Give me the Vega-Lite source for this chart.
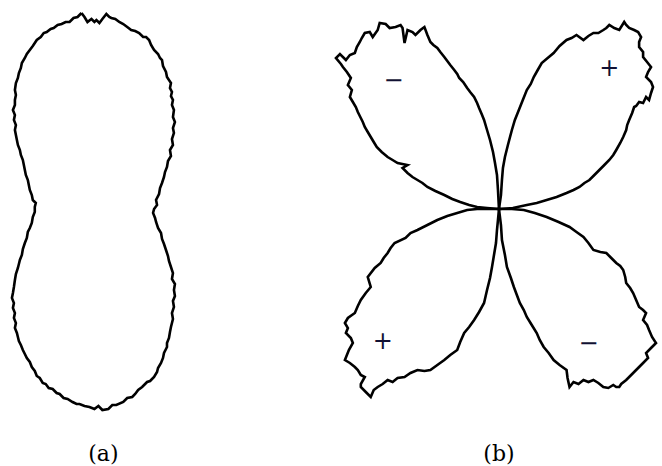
{
  "$schema": "https://vega.github.io/schema/vega-lite/v6.json",
  "width": 662,
  "height": 466,
  "autosize": {"type": "fit", "contains": "padding"},
  "padding": 0,
  "background": "white",
  "config": {"view": {"stroke": null}},
  "datasets": {
    "outline": [
      {"shape":"a","x":82,"y":13},{"shape":"a","x":85,"y":17},{"shape":"a","x":88,"y":22},{"shape":"a","x":92,"y":19},{"shape":"a","x":95,"y":22},{"shape":"a","x":97,"y":20},{"shape":"a","x":100,"y":23},{"shape":"a","x":103,"y":19},{"shape":"a","x":107,"y":14},{"shape":"a","x":110,"y":17},{"shape":"a","x":112,"y":18},
      {"shape":"a","x":116,"y":19},{"shape":"a","x":120,"y":22},{"shape":"a","x":124,"y":24},{"shape":"a","x":128,"y":27},{"shape":"a","x":132,"y":30},{"shape":"a","x":136,"y":31},{"shape":"a","x":140,"y":33},{"shape":"a","x":144,"y":37},{"shape":"a","x":147,"y":37},{"shape":"a","x":150,"y":40},{"shape":"a","x":152,"y":45},{"shape":"a","x":155,"y":50},{"shape":"a","x":159,"y":54},{"shape":"a","x":161,"y":58},{"shape":"a","x":163,"y":60},{"shape":"a","x":164,"y":66},{"shape":"a","x":167,"y":72},{"shape":"a","x":168,"y":77},{"shape":"a","x":172,"y":83},{"shape":"a","x":171,"y":88},{"shape":"a","x":173,"y":92},{"shape":"a","x":172,"y":96},{"shape":"a","x":174,"y":100},{"shape":"a","x":173,"y":105},{"shape":"a","x":175,"y":110},{"shape":"a","x":174,"y":117},{"shape":"a","x":176,"y":122},{"shape":"a","x":174,"y":128},{"shape":"a","x":175,"y":133},{"shape":"a","x":173,"y":139},{"shape":"a","x":174,"y":145},{"shape":"a","x":171,"y":150},{"shape":"a","x":172,"y":156},{"shape":"a","x":169,"y":161},{"shape":"a","x":168,"y":167},{"shape":"a","x":166,"y":172},{"shape":"a","x":165,"y":177},{"shape":"a","x":163,"y":183},{"shape":"a","x":161,"y":188},{"shape":"a","x":160,"y":194},{"shape":"a","x":157,"y":200},{"shape":"a","x":158,"y":205},{"shape":"a","x":155,"y":209},{"shape":"a","x":154,"y":213},
      {"shape":"a","x":156,"y":218},{"shape":"a","x":157,"y":222},{"shape":"a","x":159,"y":228},{"shape":"a","x":162,"y":233},{"shape":"a","x":163,"y":239},{"shape":"a","x":165,"y":244},{"shape":"a","x":167,"y":250},{"shape":"a","x":169,"y":256},{"shape":"a","x":170,"y":261},{"shape":"a","x":172,"y":267},{"shape":"a","x":174,"y":273},{"shape":"a","x":173,"y":279},{"shape":"a","x":176,"y":284},{"shape":"a","x":175,"y":290},{"shape":"a","x":176,"y":296},{"shape":"a","x":174,"y":301},{"shape":"a","x":175,"y":307},{"shape":"a","x":173,"y":313},{"shape":"a","x":174,"y":319},{"shape":"a","x":172,"y":327},{"shape":"a","x":171,"y":332},{"shape":"a","x":170,"y":338},{"shape":"a","x":168,"y":343},{"shape":"a","x":168,"y":347},{"shape":"a","x":165,"y":353},{"shape":"a","x":164,"y":358},{"shape":"a","x":162,"y":363},{"shape":"a","x":159,"y":368},{"shape":"a","x":158,"y":372},{"shape":"a","x":155,"y":377},{"shape":"a","x":151,"y":381},{"shape":"a","x":148,"y":382},{"shape":"a","x":143,"y":387},{"shape":"a","x":139,"y":390},{"shape":"a","x":136,"y":394},{"shape":"a","x":133,"y":397},{"shape":"a","x":128,"y":398},{"shape":"a","x":124,"y":402},{"shape":"a","x":117,"y":405},{"shape":"a","x":113,"y":405},{"shape":"a","x":109,"y":409},{"shape":"a","x":103,"y":410},{"shape":"a","x":99,"y":406},{"shape":"a","x":95,"y":409},{"shape":"a","x":90,"y":407},{"shape":"a","x":85,"y":406},{"shape":"a","x":80,"y":404},{"shape":"a","x":77,"y":404},{"shape":"a","x":73,"y":402},{"shape":"a","x":68,"y":399},{"shape":"a","x":64,"y":398},{"shape":"a","x":60,"y":394},{"shape":"a","x":57,"y":393},{"shape":"a","x":53,"y":389},{"shape":"a","x":49,"y":388},{"shape":"a","x":46,"y":384},{"shape":"a","x":43,"y":383},{"shape":"a","x":40,"y":378},{"shape":"a","x":37,"y":376},{"shape":"a","x":35,"y":371},{"shape":"a","x":32,"y":367},{"shape":"a","x":30,"y":362},{"shape":"a","x":27,"y":358},{"shape":"a","x":25,"y":354},{"shape":"a","x":23,"y":350},{"shape":"a","x":21,"y":345},{"shape":"a","x":19,"y":341},{"shape":"a","x":18,"y":337},{"shape":"a","x":17,"y":333},{"shape":"a","x":15,"y":328},{"shape":"a","x":16,"y":323},{"shape":"a","x":14,"y":318},{"shape":"a","x":15,"y":313},{"shape":"a","x":13,"y":308},{"shape":"a","x":14,"y":303},{"shape":"a","x":12,"y":298},{"shape":"a","x":13,"y":293},{"shape":"a","x":14,"y":287},{"shape":"a","x":15,"y":280},{"shape":"a","x":16,"y":274},{"shape":"a","x":18,"y":268},{"shape":"a","x":19,"y":264},{"shape":"a","x":20,"y":260},{"shape":"a","x":22,"y":255},{"shape":"a","x":23,"y":249},{"shape":"a","x":25,"y":243},{"shape":"a","x":27,"y":238},{"shape":"a","x":28,"y":232},{"shape":"a","x":30,"y":228},{"shape":"a","x":32,"y":223},{"shape":"a","x":33,"y":217},{"shape":"a","x":35,"y":212},{"shape":"a","x":35,"y":207},
      {"shape":"a","x":36,"y":203},{"shape":"a","x":33,"y":200},{"shape":"a","x":32,"y":195},{"shape":"a","x":30,"y":190},{"shape":"a","x":29,"y":185},{"shape":"a","x":28,"y":180},{"shape":"a","x":26,"y":175},{"shape":"a","x":25,"y":170},{"shape":"a","x":24,"y":165},{"shape":"a","x":23,"y":160},{"shape":"a","x":21,"y":155},{"shape":"a","x":20,"y":150},{"shape":"a","x":18,"y":145},{"shape":"a","x":17,"y":140},{"shape":"a","x":16,"y":135},{"shape":"a","x":15,"y":130},{"shape":"a","x":16,"y":125},{"shape":"a","x":14,"y":120},{"shape":"a","x":15,"y":115},{"shape":"a","x":13,"y":110},{"shape":"a","x":15,"y":105},{"shape":"a","x":15,"y":100},{"shape":"a","x":16,"y":95},{"shape":"a","x":15,"y":90},{"shape":"a","x":16,"y":83},{"shape":"a","x":18,"y":78},{"shape":"a","x":19,"y":73},{"shape":"a","x":21,"y":68},{"shape":"a","x":22,"y":63},{"shape":"a","x":25,"y":58},{"shape":"a","x":27,"y":54},{"shape":"a","x":30,"y":50},{"shape":"a","x":33,"y":46},{"shape":"a","x":35,"y":43},{"shape":"a","x":37,"y":40},{"shape":"a","x":41,"y":37},{"shape":"a","x":44,"y":33},{"shape":"a","x":47,"y":32},{"shape":"a","x":51,"y":29},{"shape":"a","x":54,"y":28},{"shape":"a","x":58,"y":25},{"shape":"a","x":62,"y":24},{"shape":"a","x":66,"y":22},{"shape":"a","x":70,"y":22},{"shape":"a","x":74,"y":18},{"shape":"a","x":78,"y":17},{"shape":"a","x":82,"y":13},

      {"shape":"ul","x":502,"y":209},{"shape":"ul","x":501,"y":190},{"shape":"ul","x":500,"y":175},{"shape":"ul","x":498,"y":163},{"shape":"ul","x":496,"y":152},{"shape":"ul","x":493,"y":140},{"shape":"ul","x":490,"y":130},{"shape":"ul","x":487,"y":120},{"shape":"ul","x":485,"y":115},{"shape":"ul","x":482,"y":108},{"shape":"ul","x":480,"y":103},{"shape":"ul","x":477,"y":97},{"shape":"ul","x":473,"y":92},{"shape":"ul","x":470,"y":88},{"shape":"ul","x":466,"y":82},{"shape":"ul","x":462,"y":78},{"shape":"ul","x":460,"y":74},{"shape":"ul","x":457,"y":70},{"shape":"ul","x":453,"y":65},{"shape":"ul","x":450,"y":61},{"shape":"ul","x":447,"y":57},{"shape":"ul","x":443,"y":52},{"shape":"ul","x":440,"y":48},{"shape":"ul","x":436,"y":45},{"shape":"ul","x":433,"y":42},{"shape":"ul","x":430,"y":35},{"shape":"ul","x":427,"y":27},{"shape":"ul","x":423,"y":30},{"shape":"ul","x":418,"y":35},{"shape":"ul","x":415,"y":32},{"shape":"ul","x":410,"y":30},{"shape":"ul","x":407,"y":43},{"shape":"ul","x":405,"y":28},{"shape":"ul","x":403,"y":25},{"shape":"ul","x":398,"y":27},{"shape":"ul","x":392,"y":28},{"shape":"ul","x":388,"y":24},{"shape":"ul","x":382,"y":23},{"shape":"ul","x":380,"y":30},{"shape":"ul","x":375,"y":37},{"shape":"ul","x":372,"y":32},{"shape":"ul","x":367,"y":33},{"shape":"ul","x":364,"y":38},{"shape":"ul","x":362,"y":42},{"shape":"ul","x":359,"y":47},{"shape":"ul","x":357,"y":53},{"shape":"ul","x":352,"y":55},{"shape":"ul","x":348,"y":60},{"shape":"ul","x":342,"y":54},{"shape":"ul","x":338,"y":58},{"shape":"ul","x":343,"y":64},{"shape":"ul","x":345,"y":67},{"shape":"ul","x":349,"y":72},{"shape":"ul","x":353,"y":78},{"shape":"ul","x":350,"y":85},{"shape":"ul","x":354,"y":90},{"shape":"ul","x":352,"y":97},{"shape":"ul","x":355,"y":102},{"shape":"ul","x":358,"y":107},{"shape":"ul","x":360,"y":112},{"shape":"ul","x":363,"y":118},{"shape":"ul","x":365,"y":122},{"shape":"ul","x":367,"y":127},{"shape":"ul","x":370,"y":132},{"shape":"ul","x":373,"y":137},{"shape":"ul","x":376,"y":142},{"shape":"ul","x":379,"y":147},{"shape":"ul","x":384,"y":152},{"shape":"ul","x":390,"y":157},{"shape":"ul","x":395,"y":160},{"shape":"ul","x":400,"y":163},{"shape":"ul","x":410,"y":165},{"shape":"ul","x":405,"y":168},{"shape":"ul","x":410,"y":173},{"shape":"ul","x":415,"y":177},{"shape":"ul","x":420,"y":180},{"shape":"ul","x":425,"y":183},{"shape":"ul","x":430,"y":187},{"shape":"ul","x":438,"y":191},{"shape":"ul","x":447,"y":195},{"shape":"ul","x":455,"y":199},{"shape":"ul","x":463,"y":202},{"shape":"ul","x":472,"y":205},{"shape":"ul","x":480,"y":207},{"shape":"ul","x":490,"y":208},{"shape":"ul","x":502,"y":209},

      {"shape":"ur","x":502,"y":209},{"shape":"ur","x":504,"y":195},{"shape":"ur","x":505,"y":180},{"shape":"ur","x":506,"y":168},{"shape":"ur","x":508,"y":157},{"shape":"ur","x":511,"y":145},{"shape":"ur","x":515,"y":130},{"shape":"ur","x":518,"y":120},{"shape":"ur","x":522,"y":110},{"shape":"ur","x":526,"y":100},{"shape":"ur","x":530,"y":90},{"shape":"ur","x":534,"y":84},{"shape":"ur","x":537,"y":77},{"shape":"ur","x":541,"y":70},{"shape":"ur","x":545,"y":63},{"shape":"ur","x":551,"y":58},{"shape":"ur","x":557,"y":53},{"shape":"ur","x":563,"y":46},{"shape":"ur","x":570,"y":40},{"shape":"ur","x":575,"y":38},{"shape":"ur","x":580,"y":35},{"shape":"ur","x":587,"y":40},{"shape":"ur","x":592,"y":36},{"shape":"ur","x":597,"y":33},{"shape":"ur","x":602,"y":33},{"shape":"ur","x":607,"y":30},{"shape":"ur","x":610,"y":28},{"shape":"ur","x":613,"y":25},{"shape":"ur","x":618,"y":28},{"shape":"ur","x":623,"y":30},{"shape":"ur","x":628,"y":22},{"shape":"ur","x":630,"y":25},{"shape":"ur","x":633,"y":28},{"shape":"ur","x":638,"y":30},{"shape":"ur","x":642,"y":32},{"shape":"ur","x":645,"y":37},{"shape":"ur","x":643,"y":42},{"shape":"ur","x":643,"y":47},{"shape":"ur","x":647,"y":52},{"shape":"ur","x":647,"y":57},{"shape":"ur","x":651,"y":62},{"shape":"ur","x":655,"y":67},{"shape":"ur","x":652,"y":72},{"shape":"ur","x":650,"y":77},{"shape":"ur","x":655,"y":82},{"shape":"ur","x":657,"y":87},{"shape":"ur","x":655,"y":93},{"shape":"ur","x":653,"y":100},{"shape":"ur","x":650,"y":97},{"shape":"ur","x":647,"y":103},{"shape":"ur","x":643,"y":102},{"shape":"ur","x":640,"y":106},{"shape":"ur","x":638,"y":107},{"shape":"ur","x":636,"y":113},{"shape":"ur","x":633,"y":120},{"shape":"ur","x":631,"y":125},{"shape":"ur","x":630,"y":130},{"shape":"ur","x":627,"y":137},{"shape":"ur","x":624,"y":143},{"shape":"ur","x":620,"y":150},{"shape":"ur","x":617,"y":155},{"shape":"ur","x":613,"y":160},{"shape":"ur","x":608,"y":165},{"shape":"ur","x":603,"y":170},{"shape":"ur","x":598,"y":175},{"shape":"ur","x":593,"y":180},{"shape":"ur","x":588,"y":183},{"shape":"ur","x":583,"y":187},{"shape":"ur","x":577,"y":190},{"shape":"ur","x":570,"y":193},{"shape":"ur","x":560,"y":197},{"shape":"ur","x":550,"y":200},{"shape":"ur","x":540,"y":203},{"shape":"ur","x":530,"y":205},{"shape":"ur","x":516,"y":208},{"shape":"ur","x":502,"y":209},

      {"shape":"ll","x":502,"y":209},{"shape":"ll","x":490,"y":209},{"shape":"ll","x":480,"y":209},{"shape":"ll","x":470,"y":210},{"shape":"ll","x":460,"y":213},{"shape":"ll","x":450,"y":216},{"shape":"ll","x":440,"y":220},{"shape":"ll","x":430,"y":225},{"shape":"ll","x":420,"y":230},{"shape":"ll","x":413,"y":233},{"shape":"ll","x":408,"y":238},{"shape":"ll","x":397,"y":243},{"shape":"ll","x":393,"y":248},{"shape":"ll","x":390,"y":253},{"shape":"ll","x":386,"y":258},{"shape":"ll","x":383,"y":263},{"shape":"ll","x":377,"y":268},{"shape":"ll","x":370,"y":277},{"shape":"ll","x":373,"y":287},{"shape":"ll","x":368,"y":293},{"shape":"ll","x":363,"y":300},{"shape":"ll","x":360,"y":306},{"shape":"ll","x":357,"y":313},{"shape":"ll","x":350,"y":318},{"shape":"ll","x":347,"y":323},{"shape":"ll","x":350,"y":328},{"shape":"ll","x":348,"y":333},{"shape":"ll","x":353,"y":338},{"shape":"ll","x":355,"y":343},{"shape":"ll","x":351,"y":350},{"shape":"ll","x":347,"y":360},{"shape":"ll","x":352,"y":363},{"shape":"ll","x":357,"y":367},{"shape":"ll","x":360,"y":370},{"shape":"ll","x":363,"y":375},{"shape":"ll","x":367,"y":377},{"shape":"ll","x":363,"y":384},{"shape":"ll","x":363,"y":387},{"shape":"ll","x":368,"y":392},{"shape":"ll","x":373,"y":397},{"shape":"ll","x":376,"y":390},{"shape":"ll","x":380,"y":387},{"shape":"ll","x":385,"y":384},{"shape":"ll","x":390,"y":380},{"shape":"ll","x":395,"y":382},{"shape":"ll","x":400,"y":378},{"shape":"ll","x":407,"y":377},{"shape":"ll","x":413,"y":373},{"shape":"ll","x":420,"y":370},{"shape":"ll","x":427,"y":371},{"shape":"ll","x":433,"y":370},{"shape":"ll","x":440,"y":365},{"shape":"ll","x":447,"y":360},{"shape":"ll","x":453,"y":355},{"shape":"ll","x":460,"y":350},{"shape":"ll","x":463,"y":342},{"shape":"ll","x":467,"y":333},{"shape":"ll","x":472,"y":327},{"shape":"ll","x":477,"y":320},{"shape":"ll","x":482,"y":312},{"shape":"ll","x":487,"y":303},{"shape":"ll","x":490,"y":290},{"shape":"ll","x":493,"y":278},{"shape":"ll","x":495,"y":267},{"shape":"ll","x":497,"y":255},{"shape":"ll","x":499,"y":243},{"shape":"ll","x":500,"y":230},{"shape":"ll","x":501,"y":220},{"shape":"ll","x":502,"y":209},

      {"shape":"lr","x":502,"y":209},{"shape":"lr","x":515,"y":209},{"shape":"lr","x":527,"y":210},{"shape":"lr","x":538,"y":213},{"shape":"lr","x":550,"y":217},{"shape":"lr","x":562,"y":222},{"shape":"lr","x":573,"y":227},{"shape":"lr","x":580,"y":232},{"shape":"lr","x":587,"y":237},{"shape":"lr","x":592,"y":243},{"shape":"lr","x":597,"y":250},{"shape":"lr","x":604,"y":252},{"shape":"lr","x":610,"y":253},{"shape":"lr","x":615,"y":258},{"shape":"lr","x":620,"y":263},{"shape":"lr","x":624,"y":266},{"shape":"lr","x":627,"y":270},{"shape":"lr","x":629,"y":277},{"shape":"lr","x":630,"y":283},{"shape":"lr","x":634,"y":288},{"shape":"lr","x":637,"y":293},{"shape":"lr","x":640,"y":300},{"shape":"lr","x":643,"y":307},{"shape":"lr","x":647,"y":310},{"shape":"lr","x":650,"y":313},{"shape":"lr","x":647,"y":320},{"shape":"lr","x":651,"y":325},{"shape":"lr","x":653,"y":330},{"shape":"lr","x":656,"y":337},{"shape":"lr","x":660,"y":343},{"shape":"lr","x":655,"y":348},{"shape":"lr","x":650,"y":353},{"shape":"lr","x":652,"y":358},{"shape":"lr","x":647,"y":363},{"shape":"lr","x":642,"y":368},{"shape":"lr","x":637,"y":373},{"shape":"lr","x":633,"y":377},{"shape":"lr","x":630,"y":380},{"shape":"lr","x":625,"y":384},{"shape":"lr","x":623,"y":387},{"shape":"lr","x":620,"y":387},{"shape":"lr","x":617,"y":385},{"shape":"lr","x":612,"y":388},{"shape":"lr","x":607,"y":387},{"shape":"lr","x":602,"y":383},{"shape":"lr","x":597,"y":380},{"shape":"lr","x":592,"y":382},{"shape":"lr","x":587,"y":380},{"shape":"lr","x":582,"y":384},{"shape":"lr","x":577,"y":382},{"shape":"lr","x":573,"y":387},{"shape":"lr","x":571,"y":378},{"shape":"lr","x":570,"y":370},{"shape":"lr","x":563,"y":365},{"shape":"lr","x":557,"y":360},{"shape":"lr","x":552,"y":353},{"shape":"lr","x":547,"y":347},{"shape":"lr","x":543,"y":340},{"shape":"lr","x":540,"y":333},{"shape":"lr","x":535,"y":325},{"shape":"lr","x":530,"y":317},{"shape":"lr","x":527,"y":310},{"shape":"lr","x":523,"y":303},{"shape":"lr","x":520,"y":295},{"shape":"lr","x":517,"y":287},{"shape":"lr","x":514,"y":278},{"shape":"lr","x":510,"y":267},{"shape":"lr","x":508,"y":255},{"shape":"lr","x":505,"y":240},{"shape":"lr","x":504,"y":225},{"shape":"lr","x":502,"y":209}
    ],
    "captions": [
      {"x":104,"y":454,"text":"(a)"},
      {"x":502,"y":454,"text":"(b)"}
    ],
    "signs": [
      {"x":396,"y":81,"text":"−"},
      {"x":613,"y":69,"text":"+"},
      {"x":385,"y":342,"text":"+"},
      {"x":592,"y":344,"text":"−"}
    ]
  },
  "layer": [
    {
      "data": {"name": "outline"},
      "mark": {"type": "line", "stroke": "black", "strokeWidth": 2.6, "strokeJoin": "miter"},
      "encoding": {
        "x": {"field": "x", "type": "quantitative", "scale": {"domain": [0, 662], "nice": false, "zero": false}, "axis": null},
        "y": {"field": "y", "type": "quantitative", "scale": {"domain": [0, 466], "nice": false, "zero": false, "reverse": true}, "axis": null},
        "detail": {"field": "shape"},
        "order": {"value": null}
      }
    },
    {
      "data": {"name": "captions"},
      "mark": {"type": "text", "font": "DejaVu Serif", "fontSize": 22, "color": "black", "baseline": "middle", "align": "center"},
      "encoding": {
        "x": {"field": "x", "type": "quantitative"},
        "y": {"field": "y", "type": "quantitative"},
        "text": {"field": "text"}
      }
    },
    {
      "data": {"name": "signs"},
      "mark": {"type": "text", "font": "DejaVu Sans", "fontSize": 24, "color": "#111133", "baseline": "middle", "align": "center"},
      "encoding": {
        "x": {"field": "x", "type": "quantitative"},
        "y": {"field": "y", "type": "quantitative"},
        "text": {"field": "text"}
      }
    }
  ]
}
